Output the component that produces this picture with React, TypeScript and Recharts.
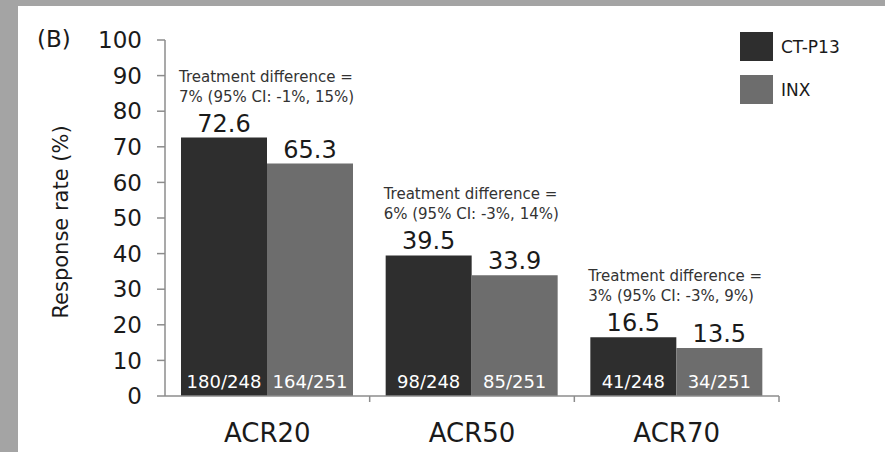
import { BarChart, Bar, XAxis, YAxis, LabelList } from "recharts"

const categories = ["ACR20", "ACR50", "ACR70"]
const ctp13Values = [72.6, 39.5, 16.5]
const inxValues = [65.3, 33.9, 13.5]
const ctp13Counts = ["180/248", "98/248", "41/248"]
const inxCounts = ["164/251", "85/251", "34/251"]
const diffTitle = "Treatment difference ="
const diffDetails = ["7% (95% CI: -1%, 15%)", "6% (95% CI: -3%, 14%)", "3% (95% CI: -3%, 9%)"]
const yTicks = [0, 10, 20, 30, 40, 50, 60, 70, 80, 90, 100]

const series = [
  { key: "ctp13", name: "CT-P13", color: "#2e2e2e" },
  { key: "inx", name: "INX", color: "#6d6d6d" },
]

const data = categories.map((c, i) => ({
  category: c,
  ctp13: ctp13Values[i],
  inx: inxValues[i],
  ctp13Count: ctp13Counts[i],
  inxCount: inxCounts[i],
  diff: diffDetails[i],
}))

const FONT = "'DejaVu Sans', 'Liberation Sans', Arial, sans-serif"
const AXIS = "#8c8c8c"
const INK = "#1a1a1a"
const W = 885
const H = 452
const MARGIN = { top: 40, right: 106, bottom: 0, left: 105 }
const BAND = (W - MARGIN.left - 60 - MARGIN.right) / categories.length

function CategoryTick(props: any) {
  const { x, y, payload } = props
  const half = payload?.offset || BAND / 2
  return (
    <g>
      <line x1={x + half} x2={x + half} y1={y} y2={y + 6} stroke={AXIS} strokeWidth={1.5} />
      <text x={x} y={y + 46} textAnchor="middle" fontSize={26} fontFamily={FONT} fill={INK}>
        {payload.value}
      </text>
    </g>
  )
}

function DiffLabel(props: any) {
  const { x, y, value } = props
  return (
    <g fontFamily={FONT} fontSize={15} fill="#333">
      <text x={x - 2} y={y - 56}>{diffTitle}</text>
      <text x={x - 2} y={y - 36}>{value}</text>
    </g>
  )
}

function YLabel(props: any) {
  const vb = props.viewBox || { y: 40, height: 356 }
  const cy = vb.y + vb.height / 2 + 4
  return (
    <text
      x={62}
      y={cy}
      transform={`rotate(-90, 62, ${cy})`}
      textAnchor="middle"
      dominantBaseline="middle"
      fontSize={21}
      fontFamily={FONT}
      fill={INK}
    >
      Response rate (%)
    </text>
  )
}

export default function App() {
  return (
    <div style={{ position: "absolute", left: 0, top: 0, width: W, height: H, background: "#a4a4a4" }}>
      <div style={{ position: "absolute", left: 18, top: 6, right: 0, bottom: 0, background: "#fff" }} />
      <div
        style={{
          position: "absolute",
          left: 37,
          top: 26,
          fontSize: 23,
          fontFamily: FONT,
          color: INK,
        }}
      >
        (B)
      </div>
      <div style={{ position: "absolute", left: 0, top: 0 }}>
        <BarChart width={W} height={H} data={data} margin={MARGIN} barCategoryGap={16} barGap={0}>
          <XAxis
            dataKey="category"
            height={56}
            tickSize={0}
            tickMargin={0}
            tickLine={false}
            axisLine={{ stroke: AXIS, strokeWidth: 1.5 }}
            tick={<CategoryTick />}
            interval={0}
          />
          <YAxis
            width={60}
            domain={[0, 100]}
            ticks={yTicks}
            interval={0}
            tickSize={8}
            tickMargin={15}
            tickLine={{ stroke: AXIS, strokeWidth: 1.5 }}
            axisLine={{ stroke: AXIS, strokeWidth: 1.5 }}
            tick={{ fontSize: 23, fill: INK, fontFamily: FONT }}
            label={<YLabel />}
          />
          <Bar dataKey="ctp13" name="CT-P13" fill={series[0].color} isAnimationActive={false}>
            <LabelList dataKey="ctp13" position="top" offset={6} fontSize={24} fill={INK} fontFamily={FONT} />
            <LabelList
              dataKey="ctp13Count"
              position="insideBottom"
              offset={8}
              fontSize={18}
              fill="#fff"
              fontFamily={FONT}
            />
            <LabelList dataKey="diff" content={<DiffLabel />} />
          </Bar>
          <Bar dataKey="inx" name="INX" fill={series[1].color} isAnimationActive={false}>
            <LabelList dataKey="inx" position="top" offset={6} fontSize={24} fill={INK} fontFamily={FONT} />
            <LabelList
              dataKey="inxCount"
              position="insideBottom"
              offset={8}
              fontSize={18}
              fill="#fff"
              fontFamily={FONT}
            />
          </Bar>
        </BarChart>
      </div>
      <div style={{ position: "absolute", left: 740, top: 32, fontFamily: FONT, fontSize: 17, color: INK }}>
        {series.map((s) => (
          <div key={s.key} style={{ display: "flex", alignItems: "center", height: 29, marginBottom: 14 }}>
            <div style={{ width: 33, height: 29, background: s.color, marginRight: 8 }} />
            <span>{s.name}</span>
          </div>
        ))}
      </div>
    </div>
  )
}
